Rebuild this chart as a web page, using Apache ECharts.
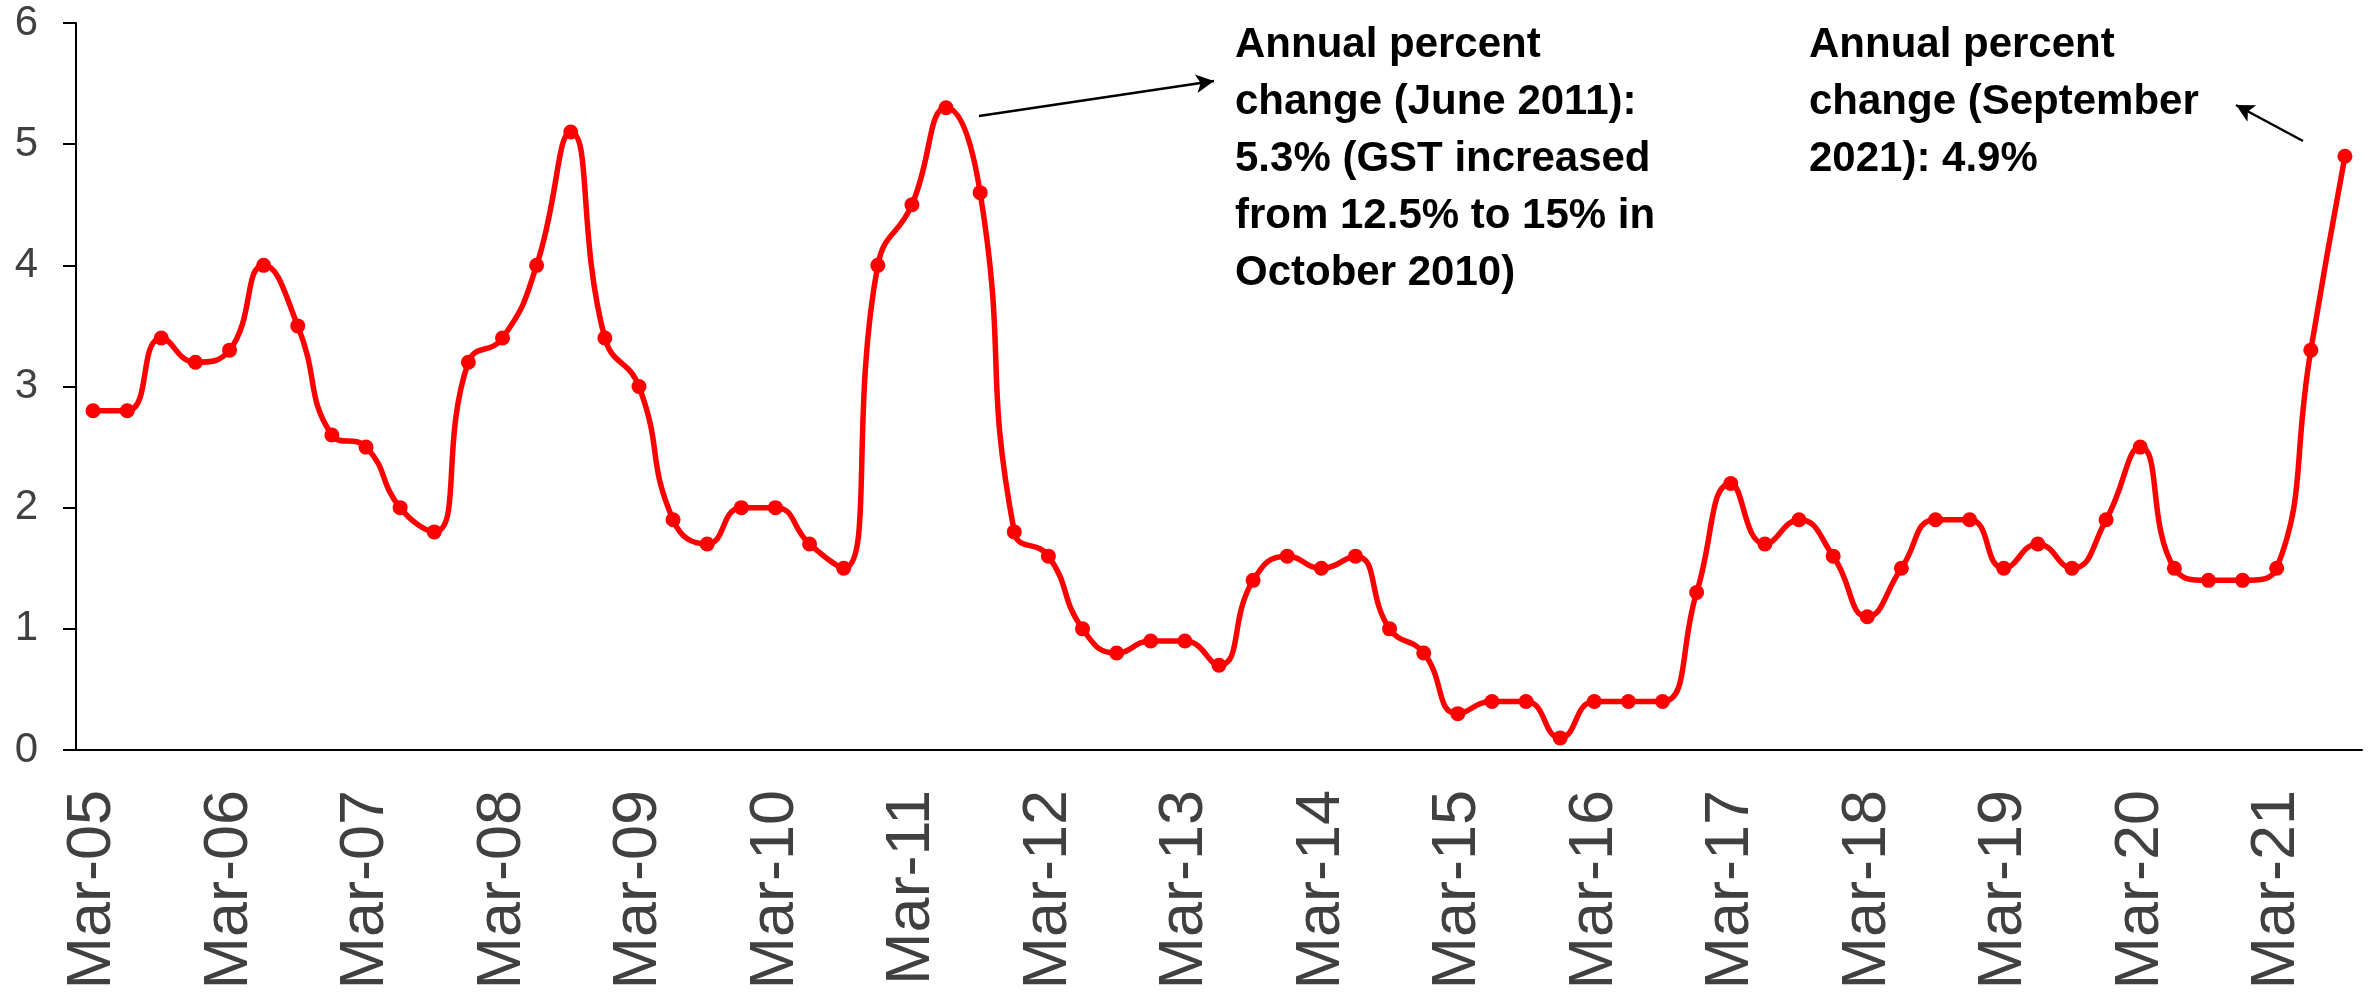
<!DOCTYPE html>
<html>
<head>
<meta charset="utf-8">
<script src="https://cdn.jsdelivr.net/npm/echarts@6/dist/echarts.min.js"></script>
<style>
  html, body { margin: 0; padding: 0; background: #fff; }
  #main { width: 2372px; height: 993px; }
</style>
</head>
<body>
<div id="main"></div>
<script>
// quarterly, Mar-05 .. Sep-21
const quarters = [
  "Mar-05", "Jun-05", "Sep-05", "Dec-05",
  "Mar-06", "Jun-06", "Sep-06", "Dec-06",
  "Mar-07", "Jun-07", "Sep-07", "Dec-07",
  "Mar-08", "Jun-08", "Sep-08", "Dec-08",
  "Mar-09", "Jun-09", "Sep-09", "Dec-09",
  "Mar-10", "Jun-10", "Sep-10", "Dec-10",
  "Mar-11", "Jun-11", "Sep-11", "Dec-11",
  "Mar-12", "Jun-12", "Sep-12", "Dec-12",
  "Mar-13", "Jun-13", "Sep-13", "Dec-13",
  "Mar-14", "Jun-14", "Sep-14", "Dec-14",
  "Mar-15", "Jun-15", "Sep-15", "Dec-15",
  "Mar-16", "Jun-16", "Sep-16", "Dec-16",
  "Mar-17", "Jun-17", "Sep-17", "Dec-17",
  "Mar-18", "Jun-18", "Sep-18", "Dec-18",
  "Mar-19", "Jun-19", "Sep-19", "Dec-19",
  "Mar-20", "Jun-20", "Sep-20", "Dec-20",
  "Mar-21", "Jun-21", "Sep-21"
];

const annualChange = [
  2.8, 2.8, 3.4, 3.2,
  3.3, 4.0, 3.5, 2.6,
  2.5, 2.0, 1.8, 3.2,
  3.4, 4.0, 5.1, 3.4,
  3.0, 1.9, 1.7, 2.0,
  2.0, 1.7, 1.5, 4.0,
  4.5, 5.3, 4.6, 1.8,
  1.6, 1.0, 0.8, 0.9,
  0.9, 0.7, 1.4, 1.6,
  1.5, 1.6, 1.0, 0.8,
  0.3, 0.4, 0.4, 0.1,
  0.4, 0.4, 0.4, 1.3,
  2.2, 1.7, 1.9, 1.6,
  1.1, 1.5, 1.9, 1.9,
  1.5, 1.7, 1.5, 1.9,
  2.5, 1.5, 1.4, 1.4,
  1.5, 3.3, 4.9
];

const yTicks = [0, 1, 2, 3, 4, 5, 6];

const noteJune2011 = "Annual percent\nchange (June 2011):\n5.3% (GST increased\nfrom 12.5% to 15% in\nOctober 2010)";
const noteSep2021 = "Annual percent\nchange (September\n2021): 4.9%";

const FONT = '"Liberation Sans", Arial, sans-serif';

const myChart = echarts.init(document.getElementById("main"));

const option = {
  animation: false,
  backgroundColor: "#fff",
  grid: {
    left: 76,
    right: 10,
    top: 23,
    bottom: 243,
    containLabel: false
  },
  xAxis: {
    type: "category",
    data: quarters,
    boundaryGap: true,
    axisLine: { lineStyle: { color: "#000", width: 2 } },
    axisTick: { show: false },
    axisLabel: {
      interval: 3,
      rotate: 90,
      margin: 40,
      fontSize: 63,
      fontFamily: FONT,
      color: "#404040"
    },
    splitLine: { show: false }
  },
  yAxis: {
    type: "value",
    min: yTicks[0],
    max: yTicks[yTicks.length - 1],
    interval: 1,
    axisLine: { show: true, lineStyle: { color: "#000", width: 2 } },
    axisTick: { show: true, length: 13, lineStyle: { color: "#000", width: 2 } },
    axisLabel: {
      margin: 38,
      fontSize: 42,
      fontFamily: FONT,
      color: "#404040"
    },
    splitLine: { show: false }
  },
  series: [
    {
      name: "Annual percent change",
      type: "line",
      data: annualChange,
      smooth: 0.5,
      symbol: "circle",
      symbolSize: 15,
      itemStyle: { color: "#ff0000" },
      lineStyle: { color: "#ff0000", width: 5.5 },
      markLine: {
        silent: true,
        symbol: ["none", "arrow"],
        symbolSize: [14, 18],
        label: { show: false },
        lineStyle: { color: "#000", width: 2.5, type: "solid" },
        emphasis: { disabled: true },
        data: [
          [{ x: 979, y: 116 }, { x: 1214, y: 81 }],
          [{ x: 2303, y: 141 }, { x: 2236, y: 105 }]
        ]
      }
    }
  ],
  graphic: [
    {
      type: "text",
      x: 1235,
      y: 17,
      style: {
        text: noteJune2011,
        font: "bold 42px " + FONT,
        fill: "#000",
        lineHeight: 57,
        verticalAlign: "top"
      }
    },
    {
      type: "text",
      x: 1809,
      y: 17,
      style: {
        text: noteSep2021,
        font: "bold 42px " + FONT,
        fill: "#000",
        lineHeight: 57,
        verticalAlign: "top"
      }
    }
  ]
};

myChart.setOption(option);
</script>
</body>
</html>
